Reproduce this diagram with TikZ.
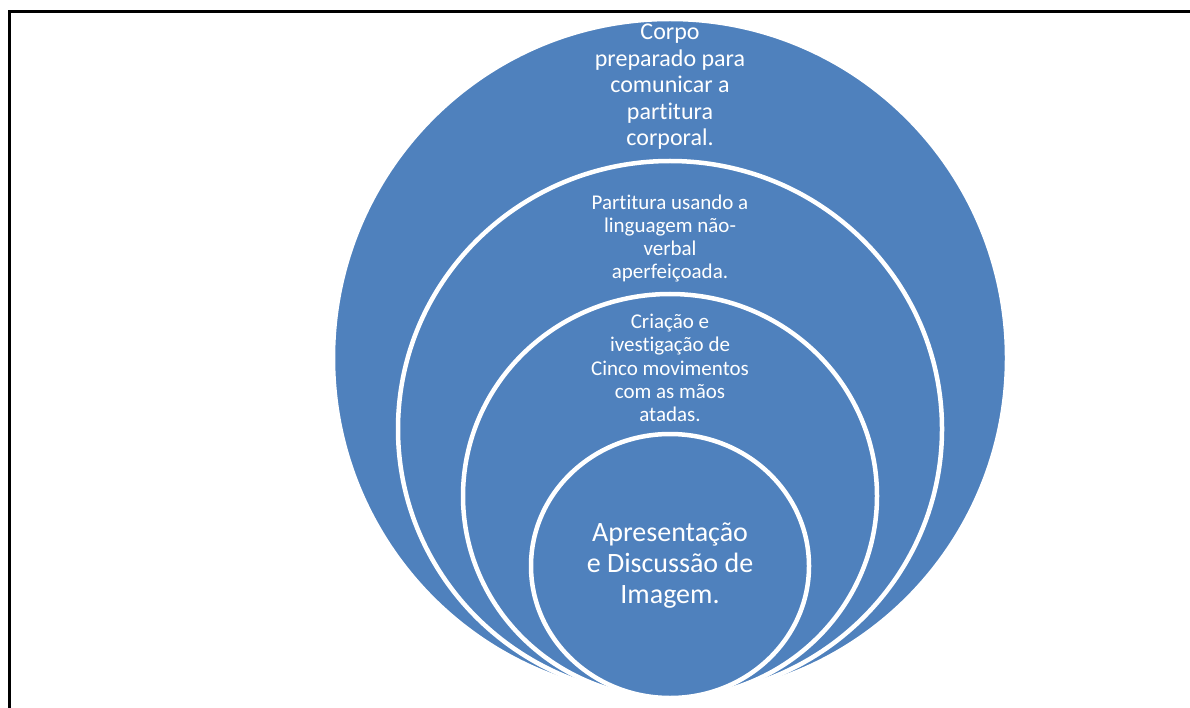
\documentclass[tikz,border=0pt]{standalone}
\usepackage{fontspec}
\setmainfont{Carlito}[Ligatures=NoCommon]
\usepackage{tikz}

\definecolor{ringblue}{RGB}{79,129,189}

\begin{document}
\begin{tikzpicture}[x=1pt,y=1pt,yscale=-1,xscale=1,
  ring/.style={fill=ringblue, draw=white, line width=4.5pt},
  ringtext/.style={text=white, align=center, inner sep=0pt}]
\useasboundingbox (0,0) rectangle (1190,708);

%Shape: Frame lines
\draw [line width=3pt] (9,708) -- (9,12) -- (1190,12) ;

%Shape: Ellipse [outer]
\draw [ring] (670,358) ellipse [x radius=337, y radius=339] ;
%Shape: Ellipse [second]
\draw [ring] (670,429) ellipse [x radius=272, y radius=268] ;
%Shape: Ellipse [third]
\draw [ring] (670,496) ellipse [x radius=207, y radius=202] ;
%Shape: Ellipse [inner]
\draw [ring] (670,566) ellipse [x radius=139, y radius=132] ;

% Text Node
\node [ringtext, font=\fontsize{24}{26.5}\selectfont] (corpo) at (670,87) {Corpo\\preparado para\\comunicar a\\partitura\\corporal.};
% Text Node
\node [ringtext, font=\fontsize{21}{23}\selectfont] (partitura) at (670,238) {Partitura usando a\\linguagem não-\\verbal\\aperfeiçoada.};
% Text Node
\node [ringtext, font=\fontsize{21}{23.3}\selectfont] (criacao) at (670,368) {Criação e\\ivestigação de\\Cinco movimentos\\com as mãos\\atadas.};
% Text Node
\node [ringtext, font=\fontsize{28}{31}\selectfont] (imagem) at (670,566) {Apresentação\\e Discussão de\\Imagem.};

\end{tikzpicture}
\end{document}
